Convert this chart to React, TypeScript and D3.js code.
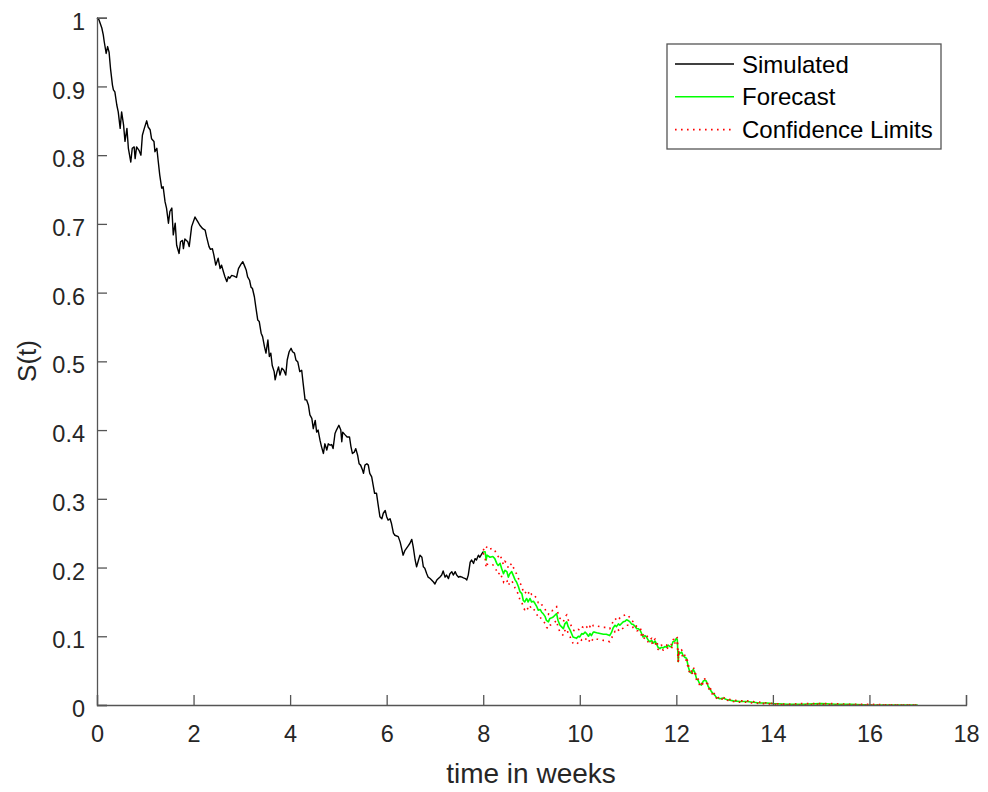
import React, { useEffect, useRef } from 'react';
import * as d3 from 'd3';

// simulated path, weeks 0..8
const simT = [
  0.00, 0.04, 0.10, 0.13, 0.15, 0.19, 0.22, 0.25, 0.28, 0.32, 0.34, 0.37, 0.41, 0.44, 0.48, 0.51, 0.55, 0.58, 0.62, 0.65,
  0.70, 0.73, 0.77, 0.79, 0.82, 0.87, 0.91, 0.94, 0.98, 1.03, 1.06, 1.10, 1.13, 1.18, 1.20, 1.24, 1.27, 1.30, 1.34, 1.37,
  1.41, 1.44, 1.48, 1.51, 1.55, 1.58, 1.62, 1.65, 1.70, 1.73, 1.77, 1.79, 1.82, 1.88, 1.91, 1.96, 2.03, 2.09, 2.13, 2.19,
  2.24, 2.27, 2.32, 2.35, 2.39, 2.42, 2.46, 2.51, 2.55, 2.58, 2.62, 2.65, 2.69, 2.72, 2.75, 2.79, 2.84, 2.89, 2.93, 2.98,
  3.02, 3.05, 3.09, 3.12, 3.16, 3.19, 3.22, 3.26, 3.29, 3.33, 3.36, 3.40, 3.43, 3.47, 3.50, 3.54, 3.57, 3.60, 3.63, 3.67,
  3.69, 3.73, 3.76, 3.79, 3.83, 3.87, 3.91, 3.94, 3.98, 4.02, 4.05, 4.09, 4.12, 4.16, 4.20, 4.24, 4.27, 4.31, 4.34, 4.38,
  4.41, 4.45, 4.48, 4.52, 4.55, 4.58, 4.62, 4.65, 4.69, 4.72, 4.76, 4.79, 4.83, 4.86, 4.89, 4.93, 4.96, 5.01, 5.05, 5.07,
  5.09, 5.14, 5.18, 5.23, 5.26, 5.29, 5.33, 5.36, 5.40, 5.43, 5.46, 5.50, 5.52, 5.55, 5.59, 5.62, 5.65, 5.69, 5.72, 5.75,
  5.79, 5.82, 5.86, 5.90, 5.93, 5.97, 6.00, 6.03, 6.07, 6.10, 6.14, 6.17, 6.24, 6.28, 6.31, 6.34, 6.38, 6.41, 6.45, 6.48,
  6.52, 6.55, 6.59, 6.62, 6.66, 6.69, 6.73, 6.76, 6.79, 6.83, 6.86, 6.90, 6.93, 6.97, 7.00, 7.04, 7.07, 7.10, 7.14, 7.17,
  7.21, 7.24, 7.28, 7.31, 7.35, 7.38, 7.42, 7.45, 7.49, 7.52, 7.56, 7.59, 7.63, 7.66, 7.69, 7.73, 7.76, 7.80, 7.83, 7.86,
  7.90, 7.93, 7.97, 8.00,
];
const simS = [
  1.000, 0.997, 0.985, 0.975, 0.965, 0.948, 0.958, 0.950, 0.926, 0.902, 0.895, 0.892, 0.873, 0.863, 0.839, 0.863, 0.844, 0.820, 0.839, 0.810,
  0.790, 0.810, 0.812, 0.795, 0.812, 0.807, 0.800, 0.829, 0.839, 0.850, 0.841, 0.837, 0.824, 0.820, 0.805, 0.810, 0.790, 0.771, 0.752, 0.754,
  0.732, 0.723, 0.701, 0.718, 0.723, 0.684, 0.701, 0.669, 0.657, 0.674, 0.676, 0.664, 0.678, 0.674, 0.667, 0.696, 0.710, 0.703, 0.698, 0.693,
  0.691, 0.681, 0.667, 0.663, 0.664, 0.655, 0.640, 0.650, 0.635, 0.640, 0.630, 0.623, 0.616, 0.623, 0.621, 0.625, 0.624, 0.622, 0.635, 0.641,
  0.645, 0.640, 0.633, 0.623, 0.618, 0.608, 0.606, 0.594, 0.579, 0.560, 0.558, 0.541, 0.536, 0.521, 0.512, 0.531, 0.507, 0.512, 0.494, 0.485,
  0.473, 0.485, 0.492, 0.480, 0.490, 0.487, 0.480, 0.502, 0.514, 0.519, 0.514, 0.512, 0.502, 0.499, 0.485, 0.487, 0.468, 0.444, 0.444, 0.436,
  0.422, 0.417, 0.402, 0.414, 0.397, 0.400, 0.385, 0.376, 0.366, 0.380, 0.371, 0.380, 0.378, 0.379, 0.373, 0.395, 0.400, 0.407, 0.400, 0.383,
  0.397, 0.393, 0.390, 0.390, 0.376, 0.366, 0.368, 0.373, 0.363, 0.351, 0.349, 0.342, 0.337, 0.349, 0.351, 0.349, 0.337, 0.332, 0.320, 0.308,
  0.308, 0.293, 0.274, 0.271, 0.279, 0.283, 0.274, 0.269, 0.271, 0.264, 0.250, 0.247, 0.245, 0.237, 0.228, 0.218, 0.225, 0.228, 0.232, 0.235,
  0.241, 0.230, 0.211, 0.201, 0.211, 0.218, 0.215, 0.201, 0.199, 0.191, 0.186, 0.184, 0.182, 0.179, 0.176, 0.182, 0.184, 0.186, 0.189, 0.195,
  0.186, 0.189, 0.184, 0.191, 0.194, 0.189, 0.194, 0.189, 0.186, 0.187, 0.186, 0.185, 0.184, 0.182, 0.189, 0.208, 0.211, 0.206, 0.213, 0.211,
  0.218, 0.215, 0.220, 0.223,
];

// forecast and confidence limits, weeks 8..17
const fcT = [
  8.00, 8.04, 8.06, 8.08, 8.14, 8.20, 8.24, 8.28, 8.31, 8.35, 8.38, 8.42, 8.45, 8.49, 8.52, 8.55, 8.59, 8.62, 8.66, 8.69,
  8.73, 8.76, 8.80, 8.83, 8.86, 8.90, 8.93, 8.97, 9.00, 9.04, 9.07, 9.11, 9.14, 9.18, 9.21, 9.24, 9.28, 9.31, 9.35, 9.38,
  9.42, 9.45, 9.49, 9.52, 9.55, 9.59, 9.62, 9.66, 9.69, 9.73, 9.76, 9.80, 9.83, 9.86, 9.90, 9.93, 9.97, 10.00, 10.04, 10.07,
  10.11, 10.14, 10.18, 10.21, 10.24, 10.28, 10.31, 10.35, 10.42, 10.49, 10.55, 10.62, 10.66, 10.69, 10.73, 10.76, 10.80, 10.83, 10.87, 10.90,
  10.94, 10.97, 11.00, 11.04, 11.07, 11.11, 11.14, 11.18, 11.21, 11.25, 11.28, 11.31, 11.35, 11.38, 11.42, 11.45, 11.49, 11.52, 11.56, 11.59,
  11.62, 11.66, 11.69, 11.73, 11.76, 11.80, 11.83, 11.87, 11.90, 11.93, 11.97, 12.00, 12.02, 12.04, 12.05, 12.07, 12.11, 12.14, 12.18, 12.21,
  12.25, 12.28, 12.32, 12.35, 12.38, 12.42, 12.45, 12.49, 12.52, 12.56, 12.59, 12.62, 12.66, 12.69, 12.73, 12.76, 12.80, 12.83, 12.90, 12.97,
  13.04, 13.11, 13.18, 13.32, 13.46, 13.59, 13.73, 13.87, 14.01, 14.30, 14.60, 15.00, 15.30, 15.60, 16.00, 16.50, 17.00,
];
const fcMean = [
  0.223, 0.223, 0.211, 0.218, 0.215, 0.216, 0.213, 0.206, 0.203, 0.206, 0.199, 0.191, 0.196, 0.194, 0.186, 0.191, 0.194, 0.189, 0.182, 0.179,
  0.172, 0.165, 0.162, 0.152, 0.150, 0.155, 0.150, 0.155, 0.150, 0.151, 0.148, 0.143, 0.138, 0.139, 0.135, 0.133, 0.129, 0.123, 0.121, 0.126,
  0.127, 0.128, 0.131, 0.133, 0.123, 0.116, 0.114, 0.111, 0.118, 0.121, 0.114, 0.109, 0.104, 0.099, 0.098, 0.097, 0.100, 0.099, 0.104, 0.103,
  0.106, 0.104, 0.100, 0.104, 0.101, 0.106, 0.106, 0.105, 0.104, 0.103, 0.103, 0.101, 0.106, 0.112, 0.116, 0.114, 0.118, 0.116, 0.119, 0.121,
  0.122, 0.124, 0.123, 0.121, 0.118, 0.117, 0.115, 0.111, 0.111, 0.109, 0.104, 0.099, 0.101, 0.099, 0.094, 0.092, 0.094, 0.090, 0.093, 0.089,
  0.084, 0.082, 0.084, 0.083, 0.085, 0.084, 0.087, 0.085, 0.085, 0.092, 0.093, 0.097, 0.095, 0.063, 0.077, 0.075, 0.077, 0.072, 0.069, 0.068,
  0.055, 0.048, 0.046, 0.052, 0.048, 0.038, 0.036, 0.030, 0.029, 0.035, 0.036, 0.035, 0.027, 0.024, 0.019, 0.017, 0.014, 0.011, 0.009, 0.010,
  0.008, 0.007, 0.006, 0.005, 0.005, 0.004, 0.003, 0.003, 0.002, 0.001, 0.001, 0.002, 0.001, 0.001, 0.000, 0.000, 0.000,
];
const fcUpper = [
  0.225, 0.230, 0.228, 0.231, 0.227, 0.228, 0.225, 0.219, 0.216, 0.219, 0.212, 0.204, 0.209, 0.206, 0.199, 0.203, 0.206, 0.201, 0.194, 0.191,
  0.184, 0.177, 0.174, 0.164, 0.162, 0.166, 0.162, 0.166, 0.161, 0.162, 0.159, 0.154, 0.149, 0.150, 0.146, 0.144, 0.140, 0.134, 0.132, 0.137,
  0.137, 0.138, 0.141, 0.143, 0.133, 0.126, 0.124, 0.121, 0.128, 0.131, 0.124, 0.119, 0.114, 0.109, 0.108, 0.107, 0.110, 0.109, 0.114, 0.113,
  0.116, 0.114, 0.110, 0.114, 0.111, 0.116, 0.116, 0.115, 0.114, 0.113, 0.113, 0.111, 0.116, 0.122, 0.126, 0.124, 0.128, 0.126, 0.128, 0.130,
  0.131, 0.132, 0.130, 0.127, 0.123, 0.121, 0.119, 0.114, 0.114, 0.112, 0.107, 0.102, 0.104, 0.102, 0.097, 0.095, 0.097, 0.093, 0.096, 0.092,
  0.087, 0.085, 0.087, 0.086, 0.088, 0.087, 0.090, 0.088, 0.088, 0.095, 0.096, 0.100, 0.098, 0.066, 0.080, 0.078, 0.080, 0.075, 0.072, 0.071,
  0.058, 0.051, 0.049, 0.055, 0.051, 0.040, 0.038, 0.032, 0.031, 0.037, 0.038, 0.037, 0.029, 0.026, 0.021, 0.019, 0.015, 0.012, 0.010, 0.011,
  0.009, 0.008, 0.007, 0.006, 0.006, 0.005, 0.004, 0.003, 0.002, 0.001, 0.002, 0.002, 0.002, 0.001, 0.001, 0.000, 0.000,
];
const fcLower = [
  0.221, 0.214, 0.200, 0.205, 0.203, 0.204, 0.200, 0.195, 0.190, 0.193, 0.187, 0.179, 0.183, 0.181, 0.174, 0.178, 0.181, 0.177, 0.170, 0.167,
  0.160, 0.153, 0.150, 0.141, 0.139, 0.143, 0.139, 0.144, 0.139, 0.140, 0.137, 0.132, 0.127, 0.128, 0.124, 0.122, 0.119, 0.113, 0.111, 0.116,
  0.117, 0.118, 0.121, 0.123, 0.113, 0.106, 0.104, 0.101, 0.108, 0.111, 0.104, 0.099, 0.094, 0.090, 0.089, 0.088, 0.091, 0.090, 0.095, 0.094,
  0.097, 0.095, 0.091, 0.095, 0.092, 0.097, 0.097, 0.096, 0.095, 0.094, 0.094, 0.092, 0.097, 0.103, 0.107, 0.105, 0.109, 0.107, 0.110, 0.112,
  0.114, 0.116, 0.116, 0.115, 0.113, 0.113, 0.111, 0.108, 0.108, 0.106, 0.101, 0.096, 0.098, 0.096, 0.091, 0.089, 0.091, 0.087, 0.090, 0.086,
  0.081, 0.079, 0.081, 0.080, 0.082, 0.081, 0.084, 0.082, 0.082, 0.089, 0.090, 0.094, 0.092, 0.060, 0.074, 0.072, 0.074, 0.069, 0.066, 0.065,
  0.052, 0.046, 0.044, 0.050, 0.046, 0.036, 0.034, 0.028, 0.027, 0.033, 0.034, 0.033, 0.025, 0.022, 0.017, 0.015, 0.013, 0.010, 0.008, 0.009,
  0.007, 0.006, 0.005, 0.004, 0.004, 0.003, 0.002, 0.002, 0.001, 0.000, 0.000, 0.001, 0.000, 0.000, 0.000, 0.000, 0.000,
];

const xTicks = [0, 2, 4, 6, 8, 10, 12, 14, 16, 18];
const yTicks = [0, 0.1, 0.2, 0.3, 0.4, 0.5, 0.6, 0.7, 0.8, 0.9, 1];
const legendItems = ['Simulated', 'Forecast', 'Confidence Limits'];

const FONT = '"Liberation Sans", Arial, Helvetica, sans-serif';

const App = () => {
  const ref = useRef<SVGSVGElement>(null);

  useEffect(() => {
    const svg = d3.select(ref.current);
    svg.selectAll('*').remove();

    const x = d3.scaleLinear().domain([0, 18]).range([97, 966]);
    const y = d3.scaleLinear().domain([0, 1]).range([705, 17.7]);

    const line = d3.line<[number, number]>()
      .x(d => x(d[0]))
      .y(d => y(d[1]));

    const sim = simT.map((t, i) => [t, simS[i]] as [number, number]);
    const mean = fcT.map((t, i) => [t, fcMean[i]] as [number, number]);
    const up = fcT.map((t, i) => [t, fcUpper[i]] as [number, number]);
    const lo = fcT.map((t, i) => [t, fcLower[i]] as [number, number]);

    svg.append('path').attr('d', line(sim)).attr('fill', 'none')
      .attr('stroke', '#000').attr('stroke-width', 1.4).attr('stroke-linejoin', 'round');
    svg.append('path').attr('d', line(mean)).attr('fill', 'none')
      .attr('stroke', '#00ff00').attr('stroke-width', 1.6).attr('stroke-linejoin', 'round');
    [up, lo].forEach(s => {
      svg.append('path').attr('d', line(s)).attr('fill', 'none')
        .attr('stroke', '#ff0000').attr('stroke-width', 1.6).attr('stroke-dasharray', '1.6,4.4');
    });

    // axes, ticks pointing inward
    const axisColor = '#555';
    const xAxis = svg.append('g').attr('transform', 'translate(0,705)')
      .call(d3.axisBottom(x).tickValues(xTicks).tickSize(-10).tickPadding(0).tickFormat(d3.format('d')));
    const yAxis = svg.append('g').attr('transform', 'translate(97,0)')
      .call(d3.axisLeft(y).tickValues(yTicks).tickSize(-10).tickPadding(0).tickFormat(d => d3.format('')(+d)));
    [xAxis, yAxis].forEach(a => {
      a.select('.domain').attr('stroke', axisColor).attr('stroke-width', 1.3);
      a.selectAll('.tick line').attr('stroke', axisColor).attr('stroke-width', 1.3);
      a.selectAll('.tick text').attr('fill', '#262626').attr('font-family', FONT).attr('font-size', 23.5);
    });
    xAxis.selectAll('.tick text').attr('dy', null).attr('y', 37);
    yAxis.selectAll('.tick text').attr('dy', null).attr('x', -12).attr('y', 11.6);

    svg.append('text').attr('x', 531).attr('y', 783).attr('text-anchor', 'middle')
      .attr('font-family', FONT).attr('font-size', 28).attr('fill', '#262626').text('time in weeks');
    svg.append('text').attr('transform', 'translate(36,361) rotate(-90)').attr('text-anchor', 'middle')
      .attr('font-family', FONT).attr('font-size', 26).attr('fill', '#262626').text('S(t)');

    // legend
    const lg = svg.append('g');
    lg.append('rect').attr('x', 667).attr('y', 44).attr('width', 274).attr('height', 105)
      .attr('fill', '#fff').attr('stroke', '#555').attr('stroke-width', 1.3);
    const styles = [
      { stroke: '#000', dash: null },
      { stroke: '#00ff00', dash: null },
      { stroke: '#ff0000', dash: '1.6,4.4' },
    ];
    legendItems.forEach((name, i) => {
      const ly = 64 + i * 32.8;
      lg.append('line').attr('x1', 675).attr('x2', 734).attr('y1', ly).attr('y2', ly)
        .attr('stroke', styles[i].stroke).attr('stroke-width', i === 0 ? 1.4 : 1.6)
        .attr('stroke-dasharray', styles[i].dash);
      lg.append('text').attr('x', 742).attr('y', ly + 8.6).attr('font-family', FONT)
        .attr('font-size', 24).attr('fill', '#000').text(name);
    });
  }, []);

  return (
    <svg ref={ref} width={988} height={792}
      style={{ position: 'absolute', left: 0, top: 0, background: '#fff' }} />
  );
};

export default App;
